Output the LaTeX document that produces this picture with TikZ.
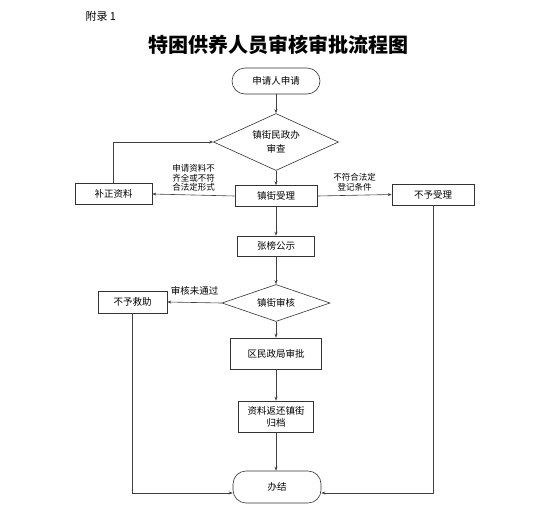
\documentclass[tikz,border=0pt]{standalone}
\usepackage{fontspec}
\setmainfont{Noto Sans CJK SC}
\usepackage{tikz}
\usetikzlibrary{arrows.meta, positioning, shapes.geometric, calc}

\begin{document}
\begin{tikzpicture}[
    x=1pt, y=-1pt,
    >={Stealth[length=4pt,width=3pt]},
    flow/.style={->, line width=0.6pt, draw=black!75},
    box/.style={draw=black!80, line width=0.6pt, fill=white, inner sep=1pt,
                align=center, font=\fontsize{9.5}{12}\selectfont},
    term/.style={box, rounded corners=13pt, minimum width=88pt},
    check/.style={diamond, draw=black!80, line width=0.6pt, inner sep=0pt,
                  aspect=2.2, align=center, font=\fontsize{9.5}{14}\selectfont},
    lbl/.style={font=\fontsize{8.5}{9.5}\selectfont, align=center, inner sep=1pt}
  ]

  % page frame
  \useasboundingbox[fill=white] (0,0) rectangle (553,515);

  % Headings
  \node[anchor=west, font=\fontsize{11}{13}\selectfont] (appx) at (82,16) {附录 1};
  \node[font=\fontsize{20}{24}\selectfont\bfseries] (title) at (278,45)
    {特困供养人员审核审批流程图};

  % Main column
  \node[term, minimum height=26pt] (start) at (276,81) {申请人申请};
  \node[check, minimum width=125pt, minimum height=57pt] (review) at (276,142)
    {镇街民政办\\审查};
  \node[box, minimum width=82pt, minimum height=21pt] (accept) at (276,196) {镇街受理};
  \node[box, minimum width=77pt, minimum height=20pt] (publish) at (276,246) {张榜公示};
  \node[check, minimum width=108pt, minimum height=37pt] (audit) at (276,303) {镇街审核};
  \node[box, minimum width=91pt, minimum height=31pt] (approve) at (276,353.5) {区民政局审批};
  \node[box, minimum width=75pt, minimum height=31pt] (archive) at (276,416.5)
    {资料返还镇街\\归档};
  \node[term, minimum height=32pt] (finish) at (277,487) {办结};

  % Side boxes
  \node[box, minimum width=77pt, minimum height=21pt] (amend) at (113.5,194) {补正资料};
  \node[box, minimum width=82pt, minimum height=21pt] (reject) at (433,194.5) {不予受理};
  \node[box, minimum width=69pt, minimum height=22pt] (deny) at (132.5,302) {不予救助};

  % Connectors
  \draw[flow] (start) -- (review);
  \draw[flow] (review) -- (accept);
  \draw[flow] (accept) -- (publish);
  \draw[flow] (publish) -- (audit);
  \draw[flow] (audit) -- (approve);
  \draw[flow] (approve) -- (archive);
  \draw[flow] (archive) -- (archive |- finish.north);

  \draw[flow] (accept.west) -- (amend.east)
    node[lbl, above, midway, yshift=2pt] {申请资料不\\齐全或不符\\合法定形式};
  \draw[flow] (amend.north) |- (review.west);
  \draw[flow] (accept.east) -- (reject.west)
    node[lbl, above, midway, yshift=3pt] {不符合法定\\登记条件};
  \draw[flow] (audit.west) -- (deny.east)
    node[lbl, above, midway, yshift=6pt, font=\fontsize{9.5}{11}\selectfont] {审核未通过};

  \draw[flow] (reject.south) |- ([yshift=-6pt]finish.east);
  \draw[flow] (deny.south) |- ([yshift=-6pt]finish.west);

\end{tikzpicture}
\end{document}
